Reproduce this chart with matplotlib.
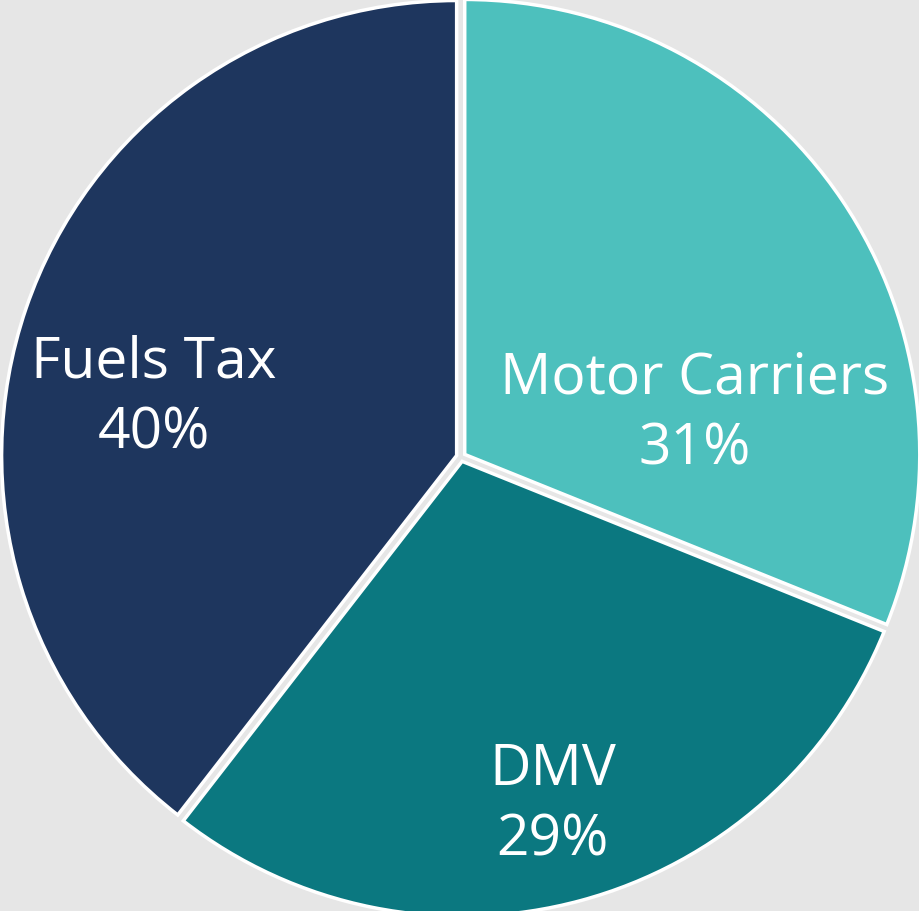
import matplotlib
matplotlib.use("Agg")
import matplotlib.pyplot as plt

labels = ["Motor Carriers", "DMV", "Fuels Tax"]
shares = [31.1, 29.4, 39.5]
colors = ["#4dc0bd", "#0b7880", "#1e365e"]
# label block centres, in units of pie radius
label_pos = [(0.514, 0.095), (0.202, -0.765), (-0.675, 0.13)]

fig = plt.figure(figsize=(9.19, 9.12), dpi=100, facecolor="#e6e6e6")
ax = fig.add_axes([0, 0, 1, 1])
ax.set_facecolor("#e6e6e6")

ax.pie(shares, colors=colors, startangle=90, counterclock=False,
       explode=[0.01] * 3, radius=1.0,
       wedgeprops=dict(edgecolor="white", linewidth=2.5))

for lab, s, (x, y) in zip(labels, shares, label_pos):
    ax.text(x, y, f"{lab}\n{round(s)}%", ha="center", va="center", color="white",
            fontsize=41, family="Open Sans", linespacing=1.32)

ax.set_xlim(-1.013, 1.0066)
ax.set_ylim(-0.998, 1.0066)
ax.set_aspect("auto")
ax.axis("off")

fig.savefig("out.png", dpi=100, facecolor=fig.get_facecolor())
